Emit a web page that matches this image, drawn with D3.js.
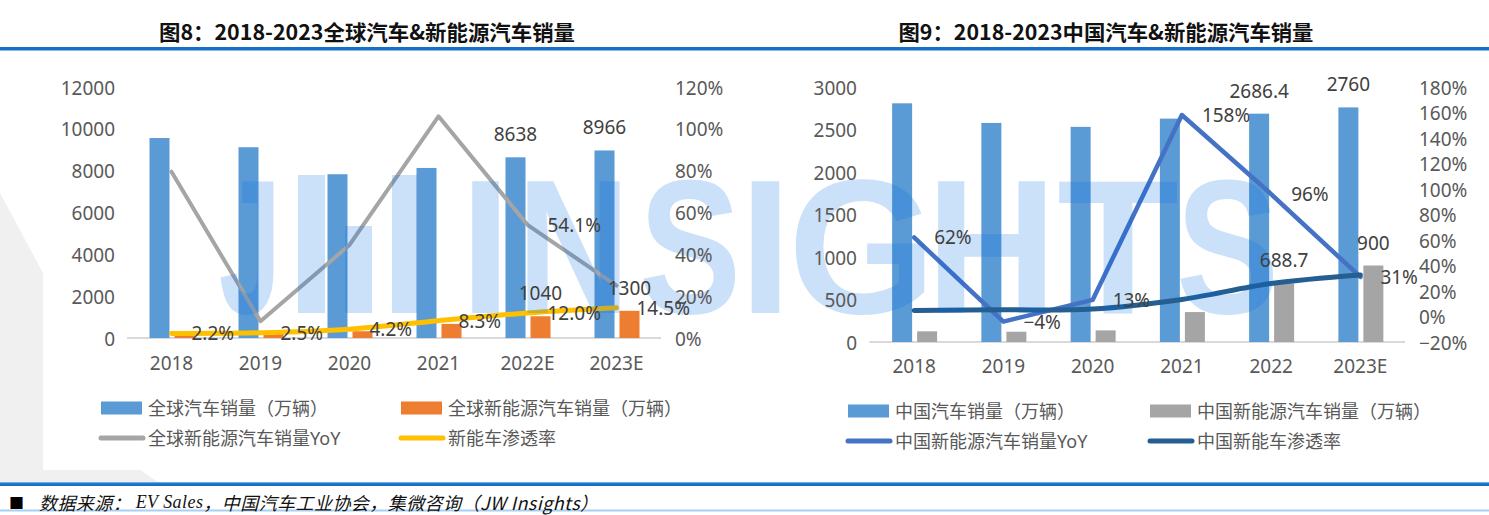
<!DOCTYPE html>
<html><head><meta charset="utf-8">
<script src="https://cdn.jsdelivr.net/npm/d3@7"></script>
<style>
body{margin:0;background:#fff;}
svg text{font-family:'Noto Sans','Noto Sans CJK SC',sans-serif;}
</style></head>
<body><svg id="c"></svg>
<script>
// ---------- DATA ----------
const globalCategories = ["2018","2019","2020","2021","2022E","2023E"];
const globalCarSales = [9560, 9120, 7830, 8130, 8638, 8966];
const globalNevSales = [201, 221, 324, 675, 1040, 1300];
const globalNevYoY = [0.795, 0.08, 0.445, 1.06, 0.541, 0.25];
const globalPenetration = [0.022, 0.025, 0.042, 0.083, 0.120, 0.145];
const globalLeftTicks = [0, 2000, 4000, 6000, 8000, 10000, 12000];
const globalRightTicks = [0, 0.2, 0.4, 0.6, 0.8, 1.0, 1.2];
const globalCarLabelShown = [false,false,false,false,true,true];
const globalNevLabelShown = [false,false,false,false,true,true];
const globalYoYLabelShown = [false,false,false,false,true,false];
const globalPenLabelShown = [true,true,true,true,true,true];
const globalLegend = ["全球汽车销量（万辆）","全球新能源汽车销量（万辆）","全球新能源汽车销量YoY","新能车渗透率"];
const globalTitle = "图8：2018-2023全球汽车&新能源汽车销量";

const chinaCategories = ["2018","2019","2020","2021","2022","2023E"];
const chinaCarSales = [2808, 2577, 2531, 2628, 2686.4, 2760];
const chinaNevSales = [125.6, 120.6, 136.7, 352.1, 688.7, 900];
const chinaNevYoY = [0.62, -0.04, 0.13, 1.58, 0.96, 0.31];
const chinaPenetration = [0.048, 0.052, 0.059, 0.134, 0.259, 0.326];
const chinaLeftTicks = [0, 500, 1000, 1500, 2000, 2500, 3000];
const chinaRightTicks = [-0.2, 0, 0.2, 0.4, 0.6, 0.8, 1.0, 1.2, 1.4, 1.6, 1.8];
const chinaCarLabelShown = [false,false,false,false,true,true];
const chinaNevLabelShown = [false,false,false,false,true,true];
const chinaYoYLabelShown = [true,true,true,true,true,true];
const chinaPenLabelShown = [false,false,false,false,false,false];
const chinaLegend = ["中国汽车销量（万辆）","中国新能源汽车销量（万辆）","中国新能源汽车销量YoY","中国新能车渗透率"];
const chinaTitle = "图9：2018-2023中国汽车&新能源汽车销量";

const sourceParts = ["数据来源： ", "EV Sales", "，中国汽车工业协会，集微咨询（JW Insights）"];
const watermarkLetters = ["J","I","N","S","I","G","H","T","S"];

// ---------- SETUP ----------
const W = 1489, H = 515;
const svg = d3.select("#c").attr("width", W).attr("height", H);
const TICK = "#595959", LAB = "#404040";

// faint background logo shape
svg.append("path")
  .attr("d", "M0,193 L43,273 L43,470 L140,470 L158,482 L0,482 Z")
  .attr("fill", "#f0f0f0");

// header / footer rules
svg.append("rect").attr("x",0).attr("y",47).attr("width",W).attr("height",3.5).attr("fill","#1570c7");
svg.append("rect").attr("x",0).attr("y",482).attr("width",W).attr("height",4).attr("fill","#1570c7");
svg.append("rect").attr("x",0).attr("y",482).attr("width",W).attr("height",1.2).attr("fill","#6aa9e6");
svg.append("rect").attr("x",0).attr("y",509.5).attr("width",W).attr("height",2).attr("fill","#a9d0f3");

const layers = {
  back: svg.append("g"),
  wm: svg.append("g"),
  front: svg.append("g")
};

function drawChart(o) {
  const x = d3.scaleBand().domain(o.cats).range([o.x0, o.x1]).padding(0);
  const xs = d3.scaleBand().domain([0,1]).range([-22, 23]).paddingInner(0.2);
  const yL = d3.scaleLinear().domain(o.leftDomain).range([o.yBottom, o.yTop]);
  const yR = d3.scaleLinear().domain(o.rightDomain).range([o.yBottom, o.yTop]);
  const cx = c => x(c) + x.bandwidth()/2;
  const g = layers.back.append("g");
  const f = layers.front.append("g");

  // title
  f.append("text").attr("x", o.titleX).attr("y", 31)
    .attr("text-anchor","middle").attr("dominant-baseline","central")
    .attr("font-weight","bold").attr("font-size",21).attr("fill","#111")
    .attr("textLength", o.titleW).attr("lengthAdjust","spacingAndGlyphs")
    .style("font-family","'Noto Sans CJK SC',sans-serif")
    .text(o.title);

  // axis baseline
  g.append("line").attr("x1",o.x0).attr("x2",o.x1)
    .attr("y1", yL(0)).attr("y2", yL(0))
    .attr("stroke","#d9d9d9").attr("stroke-width",2);

  // left ticks
  const axL = d3.axisLeft(yL).tickValues(o.leftTicks).tickSize(0).tickPadding(0).tickFormat(d3.format("d"));
  const gl = f.append("g").attr("transform",`translate(${o.leftLabelX},0)`).call(axL);
  gl.select(".domain").remove();
  gl.selectAll("text").attr("font-size",19).attr("fill",TICK).attr("dy",null)
    .attr("dominant-baseline","central").attr("font-family",null);

  // right ticks
  const axR = d3.axisRight(yR).tickValues(o.rightTicks).tickSize(0).tickPadding(0).tickFormat(d3.format(".0%"));
  const gr = f.append("g").attr("transform",`translate(${o.rightLabelX},0)`).call(axR);
  gr.select(".domain").remove();
  gr.selectAll("text").attr("font-size",19).attr("fill",TICK).attr("dy",null)
    .attr("dominant-baseline","central").attr("font-family",null);

  // x labels
  const axB = d3.axisBottom(x).tickSize(0).tickPadding(0);
  const gb = f.append("g").attr("transform",`translate(0,${o.xLabelY})`).call(axB);
  gb.select(".domain").remove();
  gb.selectAll("text").attr("font-size",19).attr("fill",TICK).attr("dy",null).attr("y",0)
    .attr("dominant-baseline","central").attr("font-family",null);

  // bars
  o.bars.forEach((b, si) => {
    g.append("g").selectAll("rect").data(b.values).join("rect")
      .attr("x", (d,i) => x(o.cats[i]) + x.bandwidth()/2 + xs(si))
      .attr("width", xs.bandwidth())
      .attr("y", d => yL(d))
      .attr("height", d => yL(0) - yL(d))
      .attr("fill", b.color);
    f.append("g").selectAll("text").data(b.values.map((v,i)=>({v,i})).filter(d => b.shown[d.i])).join("text")
      .attr("x", d => x(o.cats[d.i]) + x.bandwidth()/2 + xs(si) + xs.bandwidth()/2)
      .attr("y", d => yL(d.v) - 23)
      .attr("text-anchor","middle").attr("dominant-baseline","central")
      .attr("font-size",19).attr("fill",LAB)
      .text(d => String(d.v));
  });

  // lines
  o.lines.forEach(l => {
    const pts = l.values.map((v,i) => [cx(o.cats[i]), yR(v)]);
    g.append("path").attr("d", d3.line().curve(l.curve)(pts))
      .attr("fill","none").attr("stroke", l.color).attr("stroke-width", l.width)
      .attr("stroke-linejoin","round").attr("stroke-linecap","round");
    f.append("g").selectAll("text").data(pts.map((p,i)=>({p,i,v:l.values[i]})).filter(d => l.shown[d.i])).join("text")
      .attr("x", d => d.p[0] + 20).attr("y", d => d.p[1])
      .attr("dominant-baseline","central").attr("font-size",19).attr("fill",LAB)
      .text(d => l.fmt(d.v));
  });

  // legend
  o.legend.forEach((it, i) => {
    const col = i % 2, row = Math.floor(i / 2);
    const lx = o.legendX[col], ly = o.legendY[row];
    if (it.type === "rect") {
      f.append("rect").attr("x", lx).attr("y", ly - 6.5).attr("width", 41).attr("height", 13).attr("fill", it.color);
    } else {
      f.append("line").attr("x1", lx).attr("x2", lx + 42).attr("y1", ly).attr("y2", ly)
        .attr("stroke", it.color).attr("stroke-width", 5).attr("stroke-linecap","round");
    }
    f.append("text").attr("x", lx + 47).attr("y", ly).attr("dominant-baseline","central")
      .attr("font-size",18).attr("fill",TICK).text(it.label);
  });
}

const smooth = d3.curveCatmullRom.alpha(0.5);

drawChart({
  cats: globalCategories, title: globalTitle, titleX: 367, titleW: 416,
  x0: 127, x1: 661, yBottom: 338, yTop: 87,
  leftDomain: [0, 12000], rightDomain: [0, 1.2],
  leftTicks: globalLeftTicks, rightTicks: globalRightTicks,
  leftLabelX: 115, rightLabelX: 675, xLabelY: 363,
  bars: [
    {values: globalCarSales, color: "#5b9bd5", shown: globalCarLabelShown},
    {values: globalNevSales, color: "#ed7d31", shown: globalNevLabelShown}
  ],
  lines: [
    {values: globalNevYoY, color: "#a5a5a5", width: 4, curve: d3.curveLinear, shown: globalYoYLabelShown, fmt: d3.format(".1%")},
    {values: globalPenetration, color: "#ffc000", width: 5, curve: smooth, shown: globalPenLabelShown, fmt: d3.format(".1%")}
  ],
  legend: [
    {type:"rect", color:"#5b9bd5", label: globalLegend[0]},
    {type:"rect", color:"#ed7d31", label: globalLegend[1]},
    {type:"line", color:"#a5a5a5", label: globalLegend[2]},
    {type:"line", color:"#ffc000", label: globalLegend[3]}
  ],
  legendX: [101, 401], legendY: [408, 438]
});

drawChart({
  cats: chinaCategories, title: chinaTitle, titleX: 1106, titleW: 415,
  x0: 869.5, x1: 1405, yBottom: 342, yTop: 87,
  leftDomain: [0, 3000], rightDomain: [-0.2, 1.8],
  leftTicks: chinaLeftTicks, rightTicks: chinaRightTicks,
  leftLabelX: 857, rightLabelX: 1419, xLabelY: 366,
  bars: [
    {values: chinaCarSales, color: "#5b9bd5", shown: chinaCarLabelShown},
    {values: chinaNevSales, color: "#a5a5a5", shown: chinaNevLabelShown}
  ],
  lines: [
    {values: chinaNevYoY, color: "#4472c4", width: 4.5, curve: d3.curveLinear, shown: chinaYoYLabelShown, fmt: d3.format(".0%")},
    {values: chinaPenetration, color: "#255e91", width: 5, curve: smooth, shown: chinaPenLabelShown, fmt: d3.format(".0%")}
  ],
  legend: [
    {type:"rect", color:"#5b9bd5", label: chinaLegend[0]},
    {type:"rect", color:"#a5a5a5", label: chinaLegend[1]},
    {type:"line", color:"#4472c4", label: chinaLegend[2]},
    {type:"line", color:"#255e91", label: chinaLegend[3]}
  ],
  legendX: [848, 1150], legendY: [411, 441]
});

// ---------- watermark (decoration) ----------
const wm = layers.wm.append("g").attr("fill", "rgb(0,105,230)").attr("opacity", 0.2);
const wmSpans = [[228,272],[473,498],[526,621],[648,732],[752,779],[797,927],[935,1048],[1066,1170],[1185,1270]];
watermarkLetters.forEach((t, i) => {
  const [a, b] = wmSpans[i];
  const pad = t === "I" ? 13 : 9;
  wm.append("text").attr("x", a - pad).attr("y", 313)
    .attr("font-size", 192).attr("font-weight", "bold")
    .style("font-family", "'Liberation Sans',Arial,sans-serif")
    .attr("textLength", b - a + 2*pad).attr("lengthAdjust", "spacingAndGlyphs")
    .text(t);
});
// stylised "W" as three bars
[[298,175,27,138],[345,226,27,87],[392,175,25,138]].forEach(r => {
  wm.append("rect").attr("x", r[0]).attr("y", r[1]).attr("width", r[2]).attr("height", r[3]);
});

// ---------- footer ----------
svg.append("text").attr("x", 9).attr("y", 502).attr("dominant-baseline","central")
  .attr("font-size", 15).attr("fill", "#000").style("font-family","'Noto Sans CJK SC',sans-serif").text("■");
const ft = svg.append("text").attr("x", 39).attr("y", 502).attr("dominant-baseline","central")
  .attr("font-size", 18).attr("fill", "#111").attr("font-style","italic")
  .attr("textLength", 559).attr("lengthAdjust", "spacing")
  .style("font-family","'Noto Sans CJK SC',sans-serif");
ft.append("tspan").text(sourceParts[0]);
ft.append("tspan").style("font-family","'Liberation Serif',serif").text(sourceParts[1]);
ft.append("tspan").text(sourceParts[2]);
</script></body></html>
